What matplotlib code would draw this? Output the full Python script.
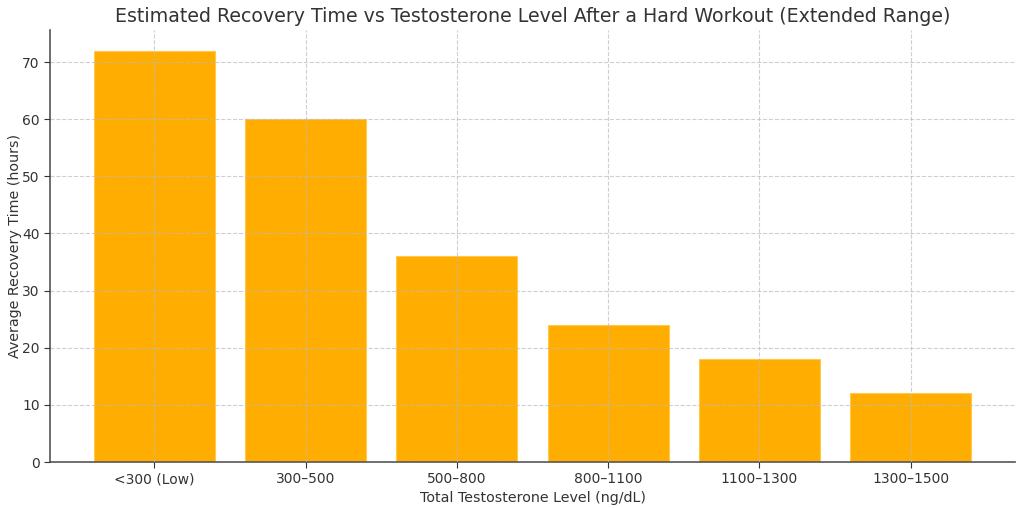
import matplotlib
matplotlib.use("Agg")
import matplotlib.pyplot as plt

categories = ["<300 (Low)", "300–500", "500–800", "800–1100", "1100–1300", "1300–1500"]
recovery_hours = [72, 60, 36, 24, 18, 12]

fig = plt.figure(figsize=(10.24, 5.08), dpi=100)
ax = fig.add_axes([50/1024, 1-462/508, 965/1024, 432/508])

ax.bar(categories, recovery_hours, width=0.8, color="#FFAD00", edgecolor="#FFC94D", linewidth=0.8)
ax.set_axisbelow(False)
ax.grid(True, linestyle="--", color="#bbbbbb", alpha=0.7, linewidth=0.8)

for s in ["top", "right"]:
    ax.spines[s].set_visible(False)
for s in ["left", "bottom"]:
    ax.spines[s].set_color("#555555")
    ax.spines[s].set_linewidth(1.2)

ax.tick_params(colors="#333333", labelsize=10, length=4)
ax.set_title("Estimated Recovery Time vs Testosterone Level After a Hard Workout (Extended Range)",
             fontsize=13.7, color="#333333", pad=6)
ax.set_xlabel("Total Testosterone Level (ng/dL)", fontsize=10.3, color="#333333", labelpad=3)
ax.set_ylabel("Average Recovery Time (hours)", fontsize=10.3, color="#333333", labelpad=0)

fig.savefig("out.png", dpi=100, facecolor="white")
